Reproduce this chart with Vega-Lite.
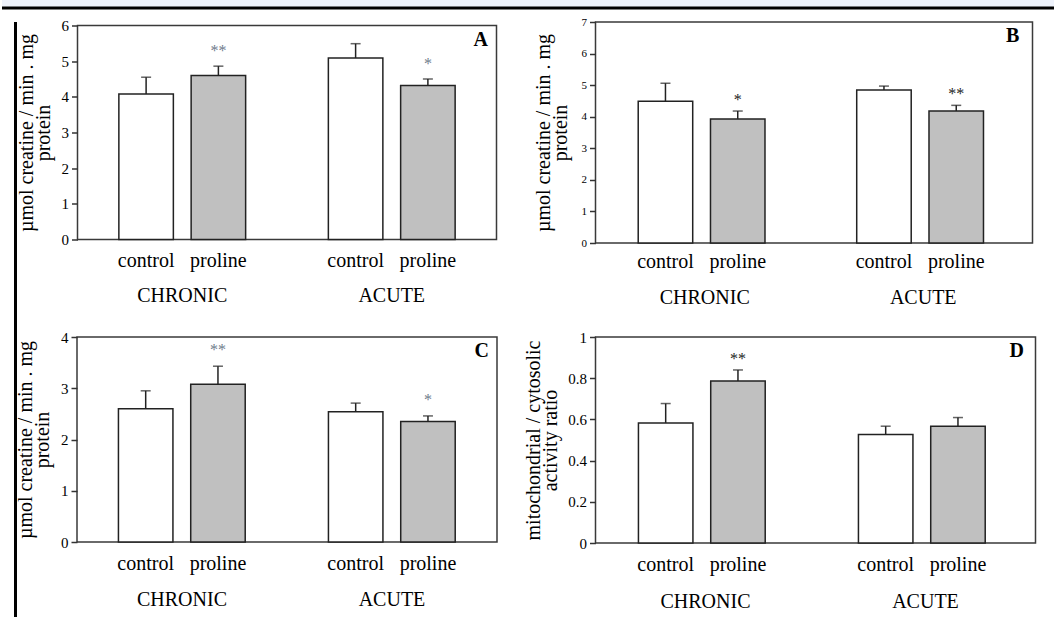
{
  "$schema": "https://vega.github.io/schema/vega-lite/v6.json",
  "padding": 0,
  "background": "white",
  "config": {
    "font": "Liberation Serif",
    "view": {"stroke": null},
    "axis": {"labelFont": "Liberation Serif", "titleFont": "Liberation Serif", "labelColor": "black", "titleColor": "black", "titleFontWeight": "normal", "grid": false, "tickColor": "#333333", "tickWidth": 1.5, "domainColor": "#333333", "labelOverlap": false},
    "text": {"font": "Liberation Serif"},
    "title": {"font": "Liberation Serif"}
  },
  "datasets": {
    "A": [
      {"group": "CHRONIC", "treatment": "control", "value": 4.08, "upper": 4.55, "sig": ""},
      {"group": "CHRONIC", "treatment": "proline", "value": 4.6, "upper": 4.86, "sig": "**"},
      {"group": "ACUTE", "treatment": "control", "value": 5.09, "upper": 5.49, "sig": ""},
      {"group": "ACUTE", "treatment": "proline", "value": 4.32, "upper": 4.5, "sig": "*"}
    ],
    "B": [
      {"group": "CHRONIC", "treatment": "control", "value": 4.49, "upper": 5.06, "sig": ""},
      {"group": "CHRONIC", "treatment": "proline", "value": 3.93, "upper": 4.18, "sig": "*"},
      {"group": "ACUTE", "treatment": "control", "value": 4.85, "upper": 4.97, "sig": ""},
      {"group": "ACUTE", "treatment": "proline", "value": 4.18, "upper": 4.36, "sig": "**"}
    ],
    "C": [
      {"group": "CHRONIC", "treatment": "control", "value": 2.6, "upper": 2.95, "sig": ""},
      {"group": "CHRONIC", "treatment": "proline", "value": 3.08, "upper": 3.43, "sig": "**"},
      {"group": "ACUTE", "treatment": "control", "value": 2.54, "upper": 2.71, "sig": ""},
      {"group": "ACUTE", "treatment": "proline", "value": 2.35, "upper": 2.46, "sig": "*"}
    ],
    "D": [
      {"group": "CHRONIC", "treatment": "control", "value": 0.583, "upper": 0.677, "sig": ""},
      {"group": "CHRONIC", "treatment": "proline", "value": 0.786, "upper": 0.84, "sig": "**"},
      {"group": "ACUTE", "treatment": "control", "value": 0.527, "upper": 0.567, "sig": ""},
      {"group": "ACUTE", "treatment": "proline", "value": 0.567, "upper": 0.609, "sig": ""}
    ],
    "one": [{"k": 1}]
  },
  "spacing": 0,
  "vconcat": [
    {
      "width": 1054, "height": 8,
      "data": {"name": "one"},
      "view": {"fill": "#eef2fb", "stroke": null},
      "mark": {"type": "rule", "strokeWidth": 3, "color": "black"},
      "encoding": {"y": {"datum": 0, "type": "quantitative", "scale": {"domain": [0, 1]}, "axis": null}}
    },
    {
      "spacing": -3,
      "hconcat": [
        {
          "width": 13.5, "height": 607,
          "data": {"name": "one"},
          "mark": {"type": "rule", "strokeWidth": 3, "color": "black"},
          "encoding": {"x": {"datum": 1, "type": "quantitative", "scale": {"domain": [0, 1]}, "axis": null}}
        },
        {
          "title": {"text": " ", "fontSize": 2, "offset": 3},
          "columns": 2,
          "bounds": "flush",
          "center": true,
          "spacing": {"row": 94, "column": 98.5},
          "concat": [
            {
              "width": 419, "height": 214,
              "data": {"name": "A"},
              "view": {"stroke": "#3a3a3a", "strokeWidth": 1.5},
              "encoding": {
                "x": {"field": "group", "type": "nominal", "sort": ["CHRONIC", "ACUTE"], "scale": {"paddingInner": 0.3, "paddingOuter": 0.15}, "axis": {"title": null, "labelAngle": 0, "ticks": false, "domain": false, "labelPadding": 46, "labelFontSize": 20, "labelFont": "Liberation Serif"}},
                "xOffset": {"field": "treatment", "type": "nominal", "sort": ["control", "proline"], "scale": {"paddingInner": 0.246, "paddingOuter": 0.1375}}
              },
              "layer": [
                {"mark": {"type": "bar", "stroke": "#222222", "strokeWidth": 1.5},
                 "encoding": {
                   "y": {"field": "value", "type": "quantitative", "scale": {"domain": [0, 6], "nice": false}, "axis": {"values": [0, 1, 2, 3, 4, 5, 6], "tickCount": 20, "format": "d", "domain": false, "tickSize": 6, "labelFontSize": 15, "labelFont": "Liberation Serif", "labelPadding": 3, "title": ["µmol creatine / min . mg", "protein"], "titleFontSize": 20, "titleLineHeight": 17, "titlePadding": 8}},
                   "fill": {"field": "treatment", "type": "nominal", "scale": {"domain": ["control", "proline"], "range": ["#ffffff", "#c0c0c0"]}, "legend": null}}},
                {"mark": {"type": "rule", "strokeWidth": 1.5, "color": "#222222"}, "encoding": {"y": {"field": "value", "type": "quantitative"}, "y2": {"field": "upper"}}},
                {"mark": {"type": "tick", "size": 10, "thickness": 1.5, "color": "#222222"}, "encoding": {"y": {"field": "upper", "type": "quantitative"}}},
                {"mark": {"type": "text", "baseline": "alphabetic", "dy": -10, "fontSize": 16, "color": "#6f7b8c"}, "encoding": {"y": {"field": "upper", "type": "quantitative"}, "text": {"field": "sig"}}},
                {"mark": {"type": "text", "baseline": "alphabetic", "dy": 27, "fontSize": 20, "color": "black"}, "encoding": {"y": {"datum": 0, "type": "quantitative"}, "text": {"field": "treatment"}}},
                {"transform": [{"filter": "datum.group == 'ACUTE' && datum.treatment == 'proline'"}],
                 "mark": {"type": "text", "text": "A", "align": "right", "baseline": "top", "dx": 60, "dy": 4, "fontSize": 20, "fontWeight": "bold", "color": "black"},
                 "encoding": {"y": {"datum": 6, "type": "quantitative"}}}
              ]
            },
            {
              "width": 437, "height": 221,
              "data": {"name": "B"},
              "view": {"stroke": "#3a3a3a", "strokeWidth": 1.5},
              "encoding": {
                "x": {"field": "group", "type": "nominal", "sort": ["CHRONIC", "ACUTE"], "scale": {"paddingInner": 0.3, "paddingOuter": 0.15}, "axis": {"title": null, "labelAngle": 0, "ticks": false, "domain": false, "labelPadding": 44, "labelFontSize": 20, "labelFont": "Liberation Serif"}},
                "xOffset": {"field": "treatment", "type": "nominal", "sort": ["control", "proline"], "scale": {"paddingInner": 0.246, "paddingOuter": 0.1375}}
              },
              "layer": [
                {"mark": {"type": "bar", "stroke": "#222222", "strokeWidth": 1.5},
                 "encoding": {
                   "y": {"field": "value", "type": "quantitative", "scale": {"domain": [0, 7], "nice": false}, "axis": {"values": [0, 1, 2, 3, 4, 5, 6, 7], "tickCount": 20, "format": "d", "domain": false, "tickSize": 6, "labelFontSize": 11, "labelFont": "Liberation Serif", "labelPadding": 3, "title": ["µmol creatine / min . mg", "protein"], "titleFontSize": 20, "titleLineHeight": 17, "titlePadding": 11}},
                   "fill": {"field": "treatment", "type": "nominal", "scale": {"domain": ["control", "proline"], "range": ["#ffffff", "#c0c0c0"]}, "legend": null}}},
                {"mark": {"type": "rule", "strokeWidth": 1.5, "color": "#222222"}, "encoding": {"y": {"field": "value", "type": "quantitative"}, "y2": {"field": "upper"}}},
                {"mark": {"type": "tick", "size": 10, "thickness": 1.5, "color": "#222222"}, "encoding": {"y": {"field": "upper", "type": "quantitative"}}},
                {"mark": {"type": "text", "baseline": "alphabetic", "dy": -6, "fontSize": 16, "color": "#222222"}, "encoding": {"y": {"field": "upper", "type": "quantitative"}, "text": {"field": "sig"}}},
                {"mark": {"type": "text", "baseline": "alphabetic", "dy": 25, "fontSize": 20, "color": "black"}, "encoding": {"y": {"datum": 0, "type": "quantitative"}, "text": {"field": "treatment"}}},
                {"transform": [{"filter": "datum.group == 'ACUTE' && datum.treatment == 'proline'"}],
                 "mark": {"type": "text", "text": "B", "align": "right", "baseline": "top", "dx": 63, "dy": 4, "fontSize": 20, "fontWeight": "bold", "color": "black"},
                 "encoding": {"y": {"datum": 7, "type": "quantitative"}}}
              ]
            },
            {
              "width": 420, "height": 205,
              "data": {"name": "C"},
              "view": {"stroke": "#3a3a3a", "strokeWidth": 1.5},
              "encoding": {
                "x": {"field": "group", "type": "nominal", "sort": ["CHRONIC", "ACUTE"], "scale": {"paddingInner": 0.3, "paddingOuter": 0.15}, "axis": {"title": null, "labelAngle": 0, "ticks": false, "domain": false, "labelPadding": 47, "labelFontSize": 20, "labelFont": "Liberation Serif"}},
                "xOffset": {"field": "treatment", "type": "nominal", "sort": ["control", "proline"], "scale": {"paddingInner": 0.246, "paddingOuter": 0.1375}}
              },
              "layer": [
                {"mark": {"type": "bar", "stroke": "#222222", "strokeWidth": 1.5},
                 "encoding": {
                   "y": {"field": "value", "type": "quantitative", "scale": {"domain": [0, 4], "nice": false}, "axis": {"values": [0, 1, 2, 3, 4], "tickCount": 20, "format": "d", "domain": false, "tickSize": 6, "labelFontSize": 15, "labelFont": "Liberation Serif", "labelPadding": 3, "title": ["µmol creatine / min . mg", "protein"], "titleFontSize": 20, "titleLineHeight": 17, "titlePadding": 8}},
                   "fill": {"field": "treatment", "type": "nominal", "scale": {"domain": ["control", "proline"], "range": ["#ffffff", "#c0c0c0"]}, "legend": null}}},
                {"mark": {"type": "rule", "strokeWidth": 1.5, "color": "#222222"}, "encoding": {"y": {"field": "value", "type": "quantitative"}, "y2": {"field": "upper"}}},
                {"mark": {"type": "tick", "size": 10, "thickness": 1.5, "color": "#222222"}, "encoding": {"y": {"field": "upper", "type": "quantitative"}}},
                {"mark": {"type": "text", "baseline": "alphabetic", "dy": -11, "fontSize": 16, "color": "#6f7b8c"}, "encoding": {"y": {"field": "upper", "type": "quantitative"}, "text": {"field": "sig"}}},
                {"mark": {"type": "text", "baseline": "alphabetic", "dy": 28, "fontSize": 20, "color": "black"}, "encoding": {"y": {"datum": 0, "type": "quantitative"}, "text": {"field": "treatment"}}},
                {"transform": [{"filter": "datum.group == 'ACUTE' && datum.treatment == 'proline'"}],
                 "mark": {"type": "text", "text": "C", "align": "right", "baseline": "top", "dx": 61, "dy": 4, "fontSize": 20, "fontWeight": "bold", "color": "black"},
                 "encoding": {"y": {"datum": 4, "type": "quantitative"}}}
              ]
            },
            {
              "width": 440, "height": 206,
              "data": {"name": "D"},
              "view": {"stroke": "#3a3a3a", "strokeWidth": 1.5},
              "encoding": {
                "x": {"field": "group", "type": "nominal", "sort": ["CHRONIC", "ACUTE"], "scale": {"paddingInner": 0.3, "paddingOuter": 0.15}, "axis": {"title": null, "labelAngle": 0, "ticks": false, "domain": false, "labelPadding": 48, "labelFontSize": 20, "labelFont": "Liberation Serif"}},
                "xOffset": {"field": "treatment", "type": "nominal", "sort": ["control", "proline"], "scale": {"paddingInner": 0.246, "paddingOuter": 0.1375}}
              },
              "layer": [
                {"mark": {"type": "bar", "stroke": "#222222", "strokeWidth": 1.5},
                 "encoding": {
                   "y": {"field": "value", "type": "quantitative", "scale": {"domain": [0, 1], "nice": false}, "axis": {"values": [0, 0.2, 0.4, 0.6, 0.8, 1], "tickCount": 20, "format": "~g", "domain": false, "tickSize": 6, "labelFontSize": 15, "labelFont": "Liberation Serif", "labelPadding": 3, "title": ["mitochondrial / cytosolic", "activity ratio"], "titleFontSize": 20, "titleLineHeight": 17, "titlePadding": 7}},
                   "fill": {"field": "treatment", "type": "nominal", "scale": {"domain": ["control", "proline"], "range": ["#ffffff", "#c0c0c0"]}, "legend": null}}},
                {"mark": {"type": "rule", "strokeWidth": 1.5, "color": "#222222"}, "encoding": {"y": {"field": "value", "type": "quantitative"}, "y2": {"field": "upper"}}},
                {"mark": {"type": "tick", "size": 10, "thickness": 1.5, "color": "#222222"}, "encoding": {"y": {"field": "upper", "type": "quantitative"}}},
                {"mark": {"type": "text", "baseline": "alphabetic", "dy": -6, "fontSize": 16, "color": "#222222"}, "encoding": {"y": {"field": "upper", "type": "quantitative"}, "text": {"field": "sig"}}},
                {"mark": {"type": "text", "baseline": "alphabetic", "dy": 28, "fontSize": 20, "color": "black"}, "encoding": {"y": {"datum": 0, "type": "quantitative"}, "text": {"field": "treatment"}}},
                {"transform": [{"filter": "datum.group == 'ACUTE' && datum.treatment == 'proline'"}],
                 "mark": {"type": "text", "text": "D", "align": "right", "baseline": "top", "dx": 66, "dy": 4, "fontSize": 20, "fontWeight": "bold", "color": "black"},
                 "encoding": {"y": {"datum": 1, "type": "quantitative"}}}
              ]
            }
          ]
        }
      ]
    }
  ]
}
